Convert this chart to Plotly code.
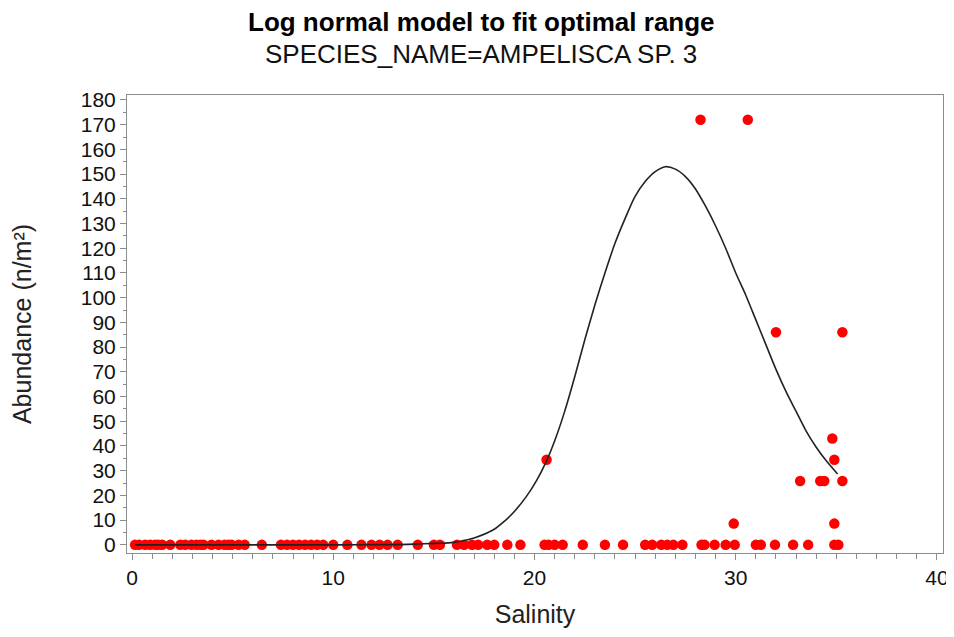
"""Log normal fit of abundance against salinity (Ampelisca sp. 3)."""

import plotly.graph_objects as go

# observed samples: salinity and abundance (n/m2)
salinity = [
    0.15, 0.35, 0.65, 0.9, 1.15, 1.3, 1.5, 1.9, 2.4, 2.65, 2.95, 3.2, 3.4,
    3.55, 3.95, 4.3, 4.6, 4.8, 4.95, 5.3, 5.6, 6.45, 7.4, 7.7, 8.0, 8.3,
    8.6, 8.9, 9.2, 9.5, 10.0, 10.7, 11.4, 11.9, 12.3, 12.7, 13.2, 14.2,
    15.0, 15.3, 16.15, 16.5, 16.9, 17.2, 17.65, 18.0, 18.65, 19.3, 20.5,
    20.7, 21.0, 21.4, 22.4, 23.5, 24.4, 25.5, 25.85, 26.3, 26.6, 26.9,
    27.35, 28.3, 28.45, 28.95, 29.5, 29.95, 31.0, 31.25, 31.95, 32.85,
    33.6, 34.9, 35.1,
    20.6, 28.25, 30.6, 32.0, 35.3, 29.9, 33.2, 34.2, 34.4, 35.3, 34.8,
    34.9, 34.9,
]
abundance = [0] * 73 + [
    34.4, 172, 172, 86, 86, 8.6, 25.8, 25.8, 25.8, 25.8, 43, 34.4, 8.6,
]

# fitted log normal curve
fit_x = [0.15, 5, 10, 13, 14, 15, 16, 17, 18, 18.5, 19, 19.6, 20.1, 20.6,
         21.0, 21.5, 22.0, 22.5, 23.0, 23.5, 24.0, 24.5, 25.0, 25.5, 26.0,
         26.5, 27.0, 27.5, 28.0, 28.5, 29.0, 29.5, 30.0, 30.5, 31.0, 31.5,
         32.0, 32.5, 33.0, 33.5, 34.0, 34.5, 35.06]
fit_y = [0, 0, 0, 0.1, 0.3, 0.6, 1.0, 2.8, 6.3, 9.5, 13.5, 19.6, 26, 34,
         42, 54, 68, 83, 97, 110, 122, 132, 141, 147, 151,
         153, 152, 149, 144, 137, 129, 120, 110, 101, 91, 81,
         71, 62, 54, 46, 39.5, 34, 28.7]

FONT = "Liberation Sans, Arial, sans-serif"

fig = go.Figure()
fig.add_trace(go.Scatter(
    x=salinity, y=abundance, mode="markers",
    marker=dict(color="#ff0000", size=10.5, line=dict(width=0)),
    showlegend=False,
))
fig.add_trace(go.Scatter(
    x=fit_x, y=fit_y, mode="lines", line_shape="spline",
    line=dict(color="#222222", width=1.6, smoothing=0.8),
    showlegend=False,
))

axis_common = dict(
    showgrid=False, zeroline=False, automargin=False,
    showline=True, mirror=True, linecolor="#8c8c8c", linewidth=1,
    ticks="outside", ticklen=6, tickcolor="#8c8c8c",
    tickfont=dict(family=FONT, size=21, color="#111111"),
)

fig.update_xaxes(
    range=[-0.25, 40.3], tickvals=[0, 10, 20, 30, 40],
    minor=dict(dtick=1, ticks="outside", ticklen=5, tickcolor="#8c8c8c"),
    title=dict(text="Salinity", font=dict(family=FONT, size=25, color="#222"),
               standoff=17),
    **axis_common,
)
fig.update_yaxes(
    range=[-3.3, 182], tickvals=list(range(0, 181, 10)),
    minor=dict(dtick=5, ticks="outside", ticklen=3, tickcolor="#8c8c8c"),
    title=dict(text="Abundance (n/m²)", font=dict(family=FONT, size=25, color="#222"),
               standoff=42),
    **axis_common,
)

# page body has an 8px margin, so the figure is sized to fit inside it
fig.update_layout(
    width=946, height=629,
    margin=dict(l=119, r=11, t=87, b=84),
    plot_bgcolor="white", paper_bgcolor="white",
    annotations=[
        dict(text="<b>Log normal model to fit optimal range</b>",
             xref="paper", yref="paper", x=0.434, y=1.159,
             xanchor="center", yanchor="middle", showarrow=False,
             font=dict(family=FONT, size=26, color="black")),
        dict(text="SPECIES_NAME=AMPELISCA SP. 3",
             xref="paper", yref="paper", x=0.434, y=1.0895,
             xanchor="center", yanchor="middle", showarrow=False,
             font=dict(family=FONT, size=26, color="#111111")),
    ],
)

fig.write_html("out.html")
